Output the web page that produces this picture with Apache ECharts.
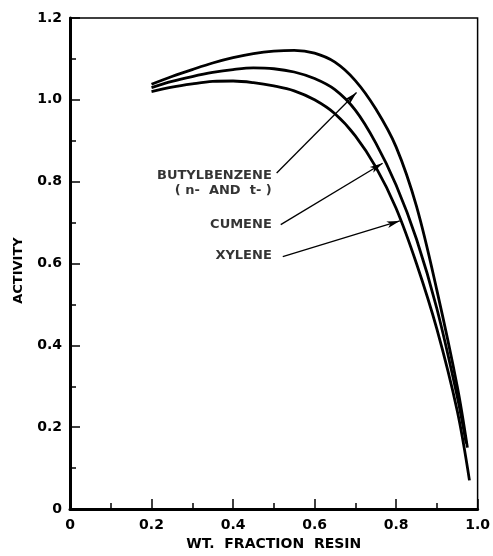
<!DOCTYPE html>
<html>
<head>
<meta charset="utf-8">
<script src="https://cdn.jsdelivr.net/npm/echarts@6/dist/echarts.min.js"></script>
<style>
  html, body { margin: 0; padding: 0; background: #fff; }
  #chart { width: 493px; height: 556px; }
</style>
</head>
<body>
<div id="chart"></div>
<script>
// Activity versus weight fraction of resin for three aromatic solvents
const butylX = [0.20, 0.25, 0.30, 0.35, 0.40, 0.45, 0.50, 0.55, 0.60, 0.65, 0.70, 0.75, 0.80, 0.85, 0.90, 0.95, 0.975];
const butylY = [1.038, 1.057, 1.074, 1.090, 1.103, 1.113, 1.119, 1.121, 1.114, 1.092, 1.047, 0.978, 0.885, 0.740, 0.535, 0.300, 0.150];

const cumeneX = [0.20, 0.25, 0.30, 0.35, 0.40, 0.45, 0.50, 0.55, 0.60, 0.65, 0.70, 0.75, 0.80, 0.85, 0.90, 0.95, 0.972];
const cumeneY = [1.030, 1.045, 1.057, 1.067, 1.074, 1.078, 1.076, 1.068, 1.052, 1.025, 0.975, 0.895, 0.792, 0.660, 0.490, 0.275, 0.160];

const xyleneX = [0.20, 0.25, 0.30, 0.35, 0.40, 0.45, 0.50, 0.55, 0.60, 0.65, 0.70, 0.75, 0.80, 0.85, 0.90, 0.95, 0.98];
const xyleneY = [1.020, 1.031, 1.039, 1.045, 1.046, 1.042, 1.034, 1.022, 1.000, 0.966, 0.912, 0.836, 0.735, 0.600, 0.440, 0.240, 0.070];

// Curve labels (right-aligned at the anchor point, data units)
const labelText = ['BUTYLBENZENE', '( n-  AND  t- )', 'CUMENE', 'XYLENE'];
const labelX = [0.495, 0.495, 0.495, 0.495];
const labelY = [0.814, 0.777, 0.695, 0.619];

// Leader arrows: start (near label) and tip (on the curve), data units
const arrowFrom = [[0.507, 0.821], [0.517, 0.695], [0.522, 0.617]];
const arrowTo = [[0.703, 1.018], [0.767, 0.845], [0.809, 0.704]];

const xTicks = { min: 0, max: 1.0, interval: 0.2 };
const yTicks = { min: 0, max: 1.2, interval: 0.2 };

const FONT = 'DejaVu Sans';
const zip = (xs, ys) => xs.map((x, i) => [x, ys[i]]);
const fmt = v => (v === 0 ? '0' : v.toFixed(1));

const curveStyle = { color: '#000', width: 2.8 };

const axisCommon = {
  type: 'value',
  axisLine: { show: true, lineStyle: { color: '#000', width: 3 } },
  axisTick: { show: true, inside: true, length: 10, lineStyle: { color: '#000', width: 1.5 } },
  minorTick: { show: true, splitNumber: 2, length: 6, lineStyle: { color: '#000', width: 1.5 } },
  splitLine: { show: false },
  minorSplitLine: { show: false },
  axisLabel: { color: '#000', fontFamily: FONT, fontWeight: 'bold', fontSize: 14, formatter: fmt },
  nameTextStyle: { color: '#000', fontFamily: FONT, fontWeight: 'bold', fontSize: 14 }
};

const chart = echarts.init(document.getElementById('chart'), null, { renderer: 'canvas' });

chart.setOption({
  backgroundColor: '#fff',
  animation: false,
  grid: {
    left: 70, right: 15, top: 18, bottom: 44,
    show: true, borderColor: '#000', borderWidth: 1.5, backgroundColor: 'transparent'
  },
  xAxis: Object.assign({}, axisCommon, {
    min: xTicks.min, max: xTicks.max, interval: xTicks.interval,
    name: 'WT.  FRACTION  RESIN', nameLocation: 'middle', nameGap: 28,
    axisLabel: Object.assign({}, axisCommon.axisLabel, { margin: 9 })
  }),
  yAxis: Object.assign({}, axisCommon, {
    min: yTicks.min, max: yTicks.max, interval: yTicks.interval,
    name: 'ACTIVITY', nameLocation: 'middle', nameGap: 45,
    nameTextStyle: Object.assign({}, axisCommon.nameTextStyle, { fontSize: 13, padding: [0, 14, 0, 0] }),
    axisLabel: Object.assign({}, axisCommon.axisLabel, { margin: 8 })
  }),
  series: [
    {
      name: 'Butylbenzene', type: 'line', data: zip(butylX, butylY),
      smooth: 0.35, showSymbol: false, lineStyle: curveStyle, z: 3,
      markLine: {
        silent: true, symbol: ['none', 'arrow'], symbolSize: [5, 13],
        label: { show: false },
        lineStyle: { color: '#000', width: 1.3, type: 'solid' },
        data: arrowFrom.map((p, i) => [{ coord: p }, { coord: arrowTo[i] }])
      }
    },
    { name: 'Cumene', type: 'line', data: zip(cumeneX, cumeneY),
      smooth: 0.35, showSymbol: false, lineStyle: curveStyle, z: 3 },
    { name: 'Xylene', type: 'line', data: zip(xyleneX, xyleneY),
      smooth: 0.35, showSymbol: false, lineStyle: curveStyle, z: 3 },
    {
      name: 'labels', type: 'scatter', symbolSize: 0, silent: true,
      data: labelX.map((x, i) => ({ value: [x, labelY[i]], name: labelText[i] })),
      label: {
        show: true, position: 'left', distance: 0, formatter: p => p.name,
        color: '#000', fontFamily: FONT, fontWeight: 'bold', fontSize: 13
      }
    }
  ]
});
</script>
</body>
</html>
